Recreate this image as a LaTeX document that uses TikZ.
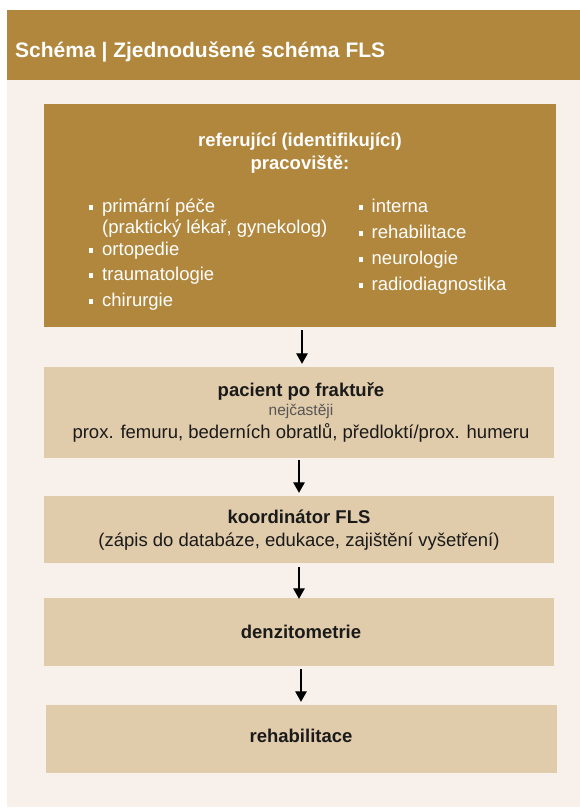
\documentclass[tikz,border=0pt]{standalone}
\usepackage{fontspec}
\setmainfont{Liberation Sans}
\usetikzlibrary{arrows.meta}
\definecolor{gold}{HTML}{B1873D}
\definecolor{tanbox}{HTML}{E0CBAA}
\definecolor{cream}{HTML}{F8F1EB}
\definecolor{ink}{HTML}{1A1A1A}
\definecolor{greytxt}{HTML}{555555}
\begin{document}
\begin{tikzpicture}[x=1pt,y=-1pt,
  darkbox/.style={fill=gold,draw=none,inner sep=0pt},
  lightbox/.style={fill=tanbox,draw=none,inner sep=0pt},
  wtxt/.style={text=white,inner sep=0pt,font=\fontsize{18.5}{22}\selectfont},
  wbold/.style={wtxt,font=\fontsize{18.5}{22}\selectfont\bfseries},
  btxt/.style={text=ink,inner sep=0pt,font=\fontsize{18.5}{22}\selectfont},
  bbold/.style={btxt,font=\fontsize{18.5}{22}\selectfont\bfseries},
  smalltxt/.style={text=greytxt,inner sep=0pt,font=\fontsize{15.5}{18}\selectfont},
  bul/.style={fill=white,draw=none,inner sep=0pt,minimum size=4.5pt},
  arr/.style={draw=black,line width=1.3pt,-{Triangle[width=11.5pt,length=10.5pt]}}
]
\useasboundingbox (0,0) rectangle (580,808);
\fill[white] (0,0) rectangle (580,808);
% header and background
\fill[gold] (7,10) rectangle (580,80);
\fill[cream] (7,80) rectangle (580,807);
\node[anchor=base west,inner sep=0pt,text=white,font=\fontsize{21}{24}\selectfont\bfseries] (title) at (15,57) {Schéma | Zjednodušené schéma FLS};

% boxes
\node[darkbox,minimum width=512pt,minimum height=223pt] (top) at (300,215.5) {};
\node[lightbox,minimum width=510pt,minimum height=91pt] (pac) at (299,412.5) {};
\node[lightbox,minimum width=510pt,minimum height=67pt] (koor) at (299,529.5) {};
\node[lightbox,minimum width=510pt,minimum height=68pt] (denz) at (299,632) {};
\node[lightbox,minimum width=511pt,minimum height=68pt] (reha) at (301.5,739) {};

% top box content
\node[wbold,anchor=base] (t1) at (300,146) {referující (identifikující)};
\node[wbold,anchor=base] (t2) at (300,169) {pracoviště:};

\node[bul] (lb1) at (91,207.5) {};
\node[wtxt,anchor=base west] (l1) at (102,212) {primární péče};
\node[wtxt,anchor=base west] (l1b) at (102,233) {(praktický lékař, gynekolog)};
\node[bul] (lb2) at (91,250.5) {};
\node[wtxt,anchor=base west] (l2) at (102,255) {ortopedie};
\node[bul] (lb3) at (91,275.5) {};
\node[wtxt,anchor=base west] (l3) at (102,280) {traumatologie};
\node[bul] (lb4) at (91,301.5) {};
\node[wtxt,anchor=base west] (l4) at (102,306) {chirurgie};

\node[bul] (rb1) at (361,207.5) {};
\node[wtxt,anchor=base west] (r1) at (371.5,212) {interna};
\node[bul] (rb2) at (361,233.5) {};
\node[wtxt,anchor=base west] (r2) at (371.5,238) {rehabilitace};
\node[bul] (rb3) at (361,259.5) {};
\node[wtxt,anchor=base west] (r3) at (371.5,264) {neurologie};
\node[bul] (rb4) at (361,285.5) {};
\node[wtxt,anchor=base west] (r4) at (371.5,290) {radiodiagnostika};

% light box texts
\node[bbold,anchor=base] (p1) at (301,396.5) {pacient po fraktuře};
\node[smalltxt,anchor=base] (p2) at (301,415.5) {nejčastěji};
\node[btxt,anchor=base] (p3) at (301,438.5) {prox. femuru, bederních obratlů, předloktí/prox. humeru};

\node[bbold,anchor=base] (k1) at (299,523.5) {koordinátor FLS};
\node[btxt,anchor=base] (k2) at (299,546.5) {(zápis do databáze, edukace, zajištění vyšetření)};

\node[bbold,anchor=base] (d1) at (301,638.5) {denzitometrie};
\node[bbold,anchor=base] (h1) at (301,742.5) {rehabilitace};

% arrows
\draw[arr] ([xshift=2pt,yshift=-3pt]top.south) -- ([xshift=3pt,yshift=3pt]pac.north);
\draw[arr] ([yshift=-2pt]pac.south) -- ([yshift=3pt]koor.north);
\draw[arr] ([yshift=-4pt]koor.south) -- ([yshift=-1pt]denz.north);
\draw[arr] ([xshift=2pt,yshift=-3pt]denz.south) -- ([xshift=-0.5pt,yshift=3pt]reha.north);
\end{tikzpicture}
\end{document}
